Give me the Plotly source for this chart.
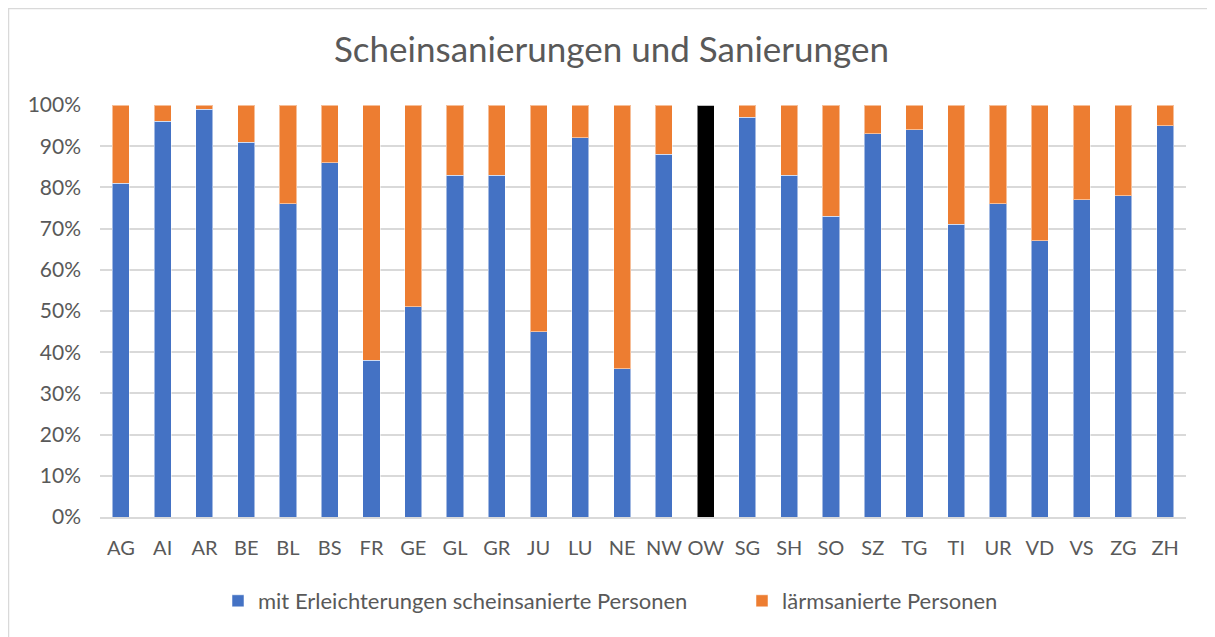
import plotly.graph_objects as go

categories = ["AG", "AI", "AR", "BE", "BL", "BS", "FR", "GE", "GL", "GR", "JU", "LU", "NE", "NW",
              "OW", "SG", "SH", "SO", "SZ", "TG", "TI", "UR", "VD", "VS", "ZG", "ZH"]
schein = [81, 96, 99, 91, 76, 86, 38, 51, 83, 83, 45, 92, 36, 88,
          100, 97, 83, 73, 93, 94, 71, 76, 67, 77, 78, 95]
laerm = [100 - v for v in schein]
laerm[categories.index("OW")] = 0

blue = "#4472C4"
orange = "#ED7D31"
schein_colors = ["#000000" if c == "OW" else blue for c in categories]

font_family = "Lato, 'Open Sans', sans-serif"
text_color = "#595959"

fig = go.Figure()
fig.add_trace(go.Bar(
    x=categories, y=schein, name="mit Erleichterungen scheinsanierte Personen",
    marker=dict(color=schein_colors, line=dict(color="rgba(255,255,255,0.5)", width=1)),
    legend="legend",
))
fig.add_trace(go.Bar(
    x=categories, y=laerm, name="lärmsanierte Personen",
    marker=dict(color=orange, line=dict(color="rgba(255,255,255,0.5)", width=1)),
    legend="legend2",
))

# page has an 8px body margin; figure coordinates = page coordinates - 8
W, H = 1207, 629
L, T = 92, 97
R = W - (1186 - 8)
B = H - (517 - 8)
pw, ph = W - L - R, H - T - B

legend_common = dict(orientation="h", yanchor="middle", y=(H - 593) / H, yref="container",
                     xref="container", xanchor="left",
                     font=dict(size=22, color=text_color), itemwidth=30)

fig.update_layout(
    width=W, height=H,
    barmode="stack", bargap=0.59,
    margin=dict(l=L, r=R, t=T, b=B),
    paper_bgcolor="white", plot_bgcolor="white",
    font=dict(family=font_family, color=text_color, size=20),
    title=dict(text="Scheinsanierungen und Sanierungen", x=0.5, xanchor="center",
               y=1 - 42 / H, yanchor="middle", font=dict(size=35, color=text_color)),
    showlegend=True,
    legend=dict(x=(233 - 8 - 15) / W, **legend_common),
    legend2=dict(x=(757 - 8 - 15) / W, **legend_common),
    xaxis=dict(showgrid=False, showline=True, linecolor="#d9d9d9", linewidth=1.5,
               tickfont=dict(size=20, color=text_color), ticks="", ticklabelstandoff=12),
    yaxis=dict(range=[0, 100], dtick=10, ticksuffix="%", showgrid=True, gridcolor="#d9d9d9",
               gridwidth=1.5, zeroline=False, tickfont=dict(size=21, color=text_color),
               ticklabelstandoff=18),
    shapes=[dict(type="rect", xref="paper", yref="paper",
                 x0=(0.5 - L) / pw, x1=(1205.5 - L) / pw,
                 y0=-(H + 5 - (T + ph)) / ph, y1=1 + (T - 0.5) / ph,
                 line=dict(color="#d9d9d9", width=1.5), fillcolor="rgba(0,0,0,0)", layer="below")],
)

fig.write_html("out.html")
